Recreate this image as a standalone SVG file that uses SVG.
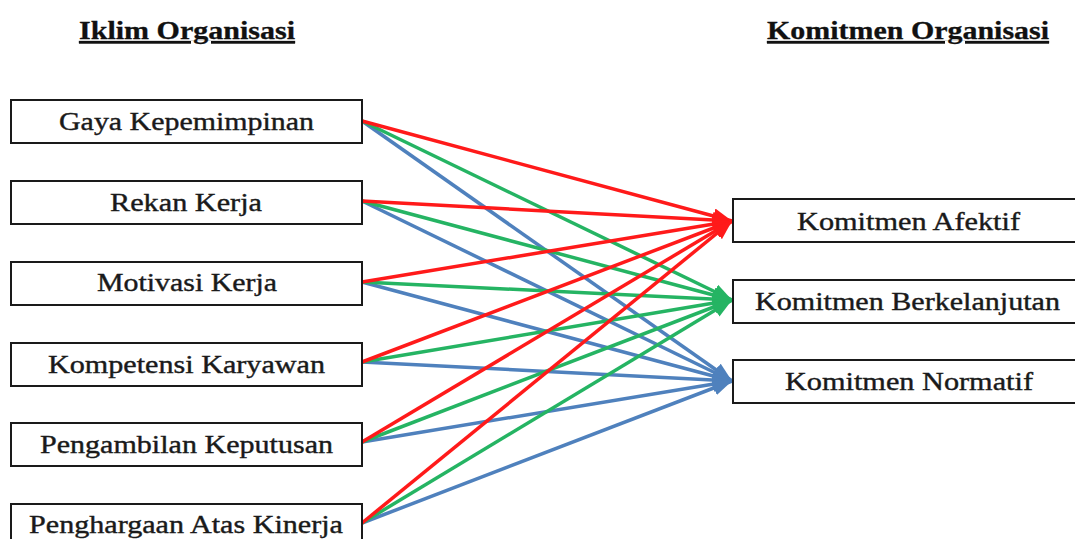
<svg xmlns="http://www.w3.org/2000/svg" width="1075" height="539" viewBox="0 0 1075 539">
  <defs>
    <style>
      .box { fill: #ffffff; stroke: #1a1a1a; stroke-width: 2; }
      .lbl { font-size: 26px; fill: #1a1a1a; stroke: #1a1a1a; stroke-width: 0.4; }
      .ttl { font-size: 26px; font-weight: bold; fill: #111; stroke: #111; stroke-width: 0.3; text-decoration: underline; }
      .r { stroke: #ff1a1a; stroke-width: 3.5; fill: none; marker-end: url(#ar); }
      .g { stroke: #25b463; stroke-width: 3.5; fill: none; marker-end: url(#ag); }
      .b { stroke: #4f81bd; stroke-width: 3.5; fill: none; marker-end: url(#ab); }
    </style>
    <marker id="ar" markerUnits="strokeWidth" markerWidth="5.5" markerHeight="4.4" refX="5.5" refY="2.2" orient="auto">
      <path d="M0,0 L5.5,2.2 L0,4.4 z" fill="#ff1a1a"/>
    </marker>
    <marker id="ag" markerUnits="strokeWidth" markerWidth="5.5" markerHeight="4.4" refX="5.5" refY="2.2" orient="auto">
      <path d="M0,0 L5.5,2.2 L0,4.4 z" fill="#25b463"/>
    </marker>
    <marker id="ab" markerUnits="strokeWidth" markerWidth="5.5" markerHeight="4.4" refX="5.5" refY="2.2" orient="auto">
      <path d="M0,0 L5.5,2.2 L0,4.4 z" fill="#4f81bd"/>
    </marker>
  </defs>
  <rect x="0" y="0" width="1075" height="539" fill="#ffffff"/>

  <g id="titles" font-family="Liberation Serif, serif">
    <text class="ttl" x="79" y="39" textLength="216" lengthAdjust="spacingAndGlyphs">Iklim Organisasi</text>
    <text class="ttl" x="767" y="39" textLength="282" lengthAdjust="spacingAndGlyphs">Komitmen Organisasi</text>
  </g>

  <g id="connectors">
    <g id="blue">
      <line class="b" x1="362" y1="121" x2="732" y2="381"/>
      <line class="b" x1="362" y1="201" x2="732" y2="381"/>
      <line class="b" x1="362" y1="282" x2="732" y2="381"/>
      <line class="b" x1="362" y1="362" x2="732" y2="381"/>
      <line class="b" x1="362" y1="442" x2="732" y2="381"/>
      <line class="b" x1="362" y1="523" x2="732" y2="381"/>
    </g>
    <g id="green">
      <line class="g" x1="362" y1="121" x2="732" y2="300"/>
      <line class="g" x1="362" y1="201" x2="732" y2="300"/>
      <line class="g" x1="362" y1="282" x2="732" y2="300"/>
      <line class="g" x1="362" y1="362" x2="732" y2="300"/>
      <line class="g" x1="362" y1="442" x2="732" y2="300"/>
      <line class="g" x1="362" y1="523" x2="732" y2="300"/>
    </g>
    <g id="red">
      <line class="r" x1="362" y1="121" x2="732" y2="221"/>
      <line class="r" x1="362" y1="201" x2="732" y2="221"/>
      <line class="r" x1="362" y1="282" x2="732" y2="221"/>
      <line class="r" x1="362" y1="362" x2="732" y2="221"/>
      <line class="r" x1="362" y1="442" x2="732" y2="221"/>
      <line class="r" x1="362" y1="523" x2="732" y2="221"/>
    </g>
  </g>

  <g font-family="Liberation Serif, serif">
  <g id="gaya">
    <rect class="box" x="11" y="100" width="351" height="43"/>
    <text class="lbl" x="59" y="130" textLength="255" lengthAdjust="spacingAndGlyphs">Gaya Kepemimpinan</text>
  </g>
  <g id="rekan">
    <rect class="box" x="11" y="181" width="351" height="43"/>
    <text class="lbl" x="110" y="211" textLength="152" lengthAdjust="spacingAndGlyphs">Rekan Kerja</text>
  </g>
  <g id="motivasi">
    <rect class="box" x="11" y="262" width="351" height="43"/>
    <text class="lbl" x="97" y="291" textLength="180" lengthAdjust="spacingAndGlyphs">Motivasi Kerja</text>
  </g>
  <g id="kompetensi">
    <rect class="box" x="11" y="343" width="351" height="43"/>
    <text class="lbl" x="48" y="373" textLength="277" lengthAdjust="spacingAndGlyphs">Kompetensi Karyawan</text>
  </g>
  <g id="pengambilan">
    <rect class="box" x="11" y="423" width="351" height="43"/>
    <text class="lbl" x="40" y="453" textLength="293" lengthAdjust="spacingAndGlyphs">Pengambilan Keputusan</text>
  </g>
  <g id="penghargaan">
    <rect class="box" x="11" y="504" width="351" height="43"/>
    <text class="lbl" x="29" y="533" textLength="314" lengthAdjust="spacingAndGlyphs">Penghargaan Atas Kinerja</text>
  </g>

  <g id="afektif">
    <rect class="box" x="733" y="199" width="352" height="43"/>
    <text class="lbl" x="797" y="230" textLength="223" lengthAdjust="spacingAndGlyphs">Komitmen Afektif</text>
  </g>
  <g id="berkelanjutan">
    <rect class="box" x="733" y="280" width="352" height="43"/>
    <text class="lbl" x="755" y="310" textLength="305" lengthAdjust="spacingAndGlyphs">Komitmen Berkelanjutan</text>
  </g>
  <g id="normatif">
    <rect class="box" x="733" y="360" width="352" height="43"/>
    <text class="lbl" x="785" y="390" textLength="248" lengthAdjust="spacingAndGlyphs">Komitmen Normatif</text>
  </g>
  </g>
</svg>
